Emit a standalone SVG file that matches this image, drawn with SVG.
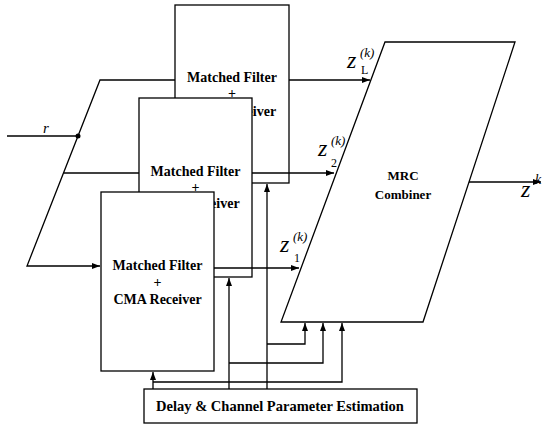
<svg xmlns="http://www.w3.org/2000/svg" width="543" height="425" viewBox="0 0 543 425">
<style>
.ln{fill:none;stroke:#000;stroke-width:1.3}
.box{fill:#fff;stroke:#000;stroke-width:1.3}
.t{font-family:"Liberation Serif","Times New Roman",serif;font-weight:bold;font-size:14px;text-anchor:middle;fill:#000}
.z{font-family:"Liberation Serif","Times New Roman",serif;font-style:italic;fill:#000}
.s{font-family:"Liberation Serif","Times New Roman",serif;fill:#000}
</style>
<defs>
<marker id="a" markerWidth="8" markerHeight="6" refX="8" refY="3" orient="auto" markerUnits="userSpaceOnUse"><path d="M0,0 L8,3 L0,6 z" fill="#000"/></marker>
</defs>
<g id="receiver-L">
<rect class="box" x="175" y="5" width="114" height="178"/>
<text class="t" x="232" y="82">Matched Filter</text>
<text class="t" x="232" y="98">+</text>
<text class="t" x="232" y="116">CMA Receiver</text>
</g>
<g id="receiver-2">
<rect class="box" x="139" y="98" width="113" height="179"/>
<text class="t" x="195.5" y="176">Matched Filter</text>
<text class="t" x="195.5" y="192">+</text>
<text class="t" x="195.5" y="208">CMA Receiver</text>
</g>
<g id="receiver-1">
<rect class="box" x="101" y="192" width="113" height="179"/>
<text class="t" x="157.5" y="270">Matched Filter</text>
<text class="t" x="157.5" y="287">+</text>
<text class="t" x="157.5" y="304">CMA Receiver</text>
</g>
<g id="mrc-combiner">
<polygon class="box" points="385,42 515,42 423,322 281,322"/>
<text class="t" x="403" y="180" style="font-size:13px">MRC</text>
<text class="t" x="403" y="199" style="font-size:13px">Combiner</text>
</g>
<g id="estimator">
<rect class="box" x="144" y="389" width="273" height="34"/>
<text class="t" x="280" y="411" style="font-size:14.5px">Delay &amp; Channel Parameter Estimation</text>
</g>
<g id="connectors">
<path class="ln" d="M7,136 H78"/>
<circle cx="78" cy="136" r="2.5" fill="#000"/>
<path class="ln" d="M175,80 H100 L27,266 H100" marker-end="url(#a)"/>
<path class="ln" d="M64,173 H139"/>
<path class="ln" d="M289,80 H370" marker-end="url(#a)"/>
<path class="ln" d="M252,173 H334" marker-end="url(#a)"/>
<path class="ln" d="M214,268 H299" marker-end="url(#a)"/>
<path class="ln" d="M469,182 H541" marker-end="url(#a)"/>
<path class="ln" d="M153,389 V372" marker-end="url(#a)"/>
<path class="ln" d="M229,389 V278" marker-end="url(#a)"/>
<path class="ln" d="M267,389 V184" marker-end="url(#a)"/>
<path class="ln" d="M153,382 H342 V323" marker-end="url(#a)"/>
<path class="ln" d="M229,363 H323 V323" marker-end="url(#a)"/>
<path class="ln" d="M267,344 H305 V323" marker-end="url(#a)"/>
</g>
<g id="labels">
<text class="z" x="43" y="133" font-size="15">r</text>
<text class="z" x="347" y="68" font-size="24">z</text>
<text class="z" x="360" y="57" font-size="13">(k)</text>
<text class="s" x="361" y="74" font-size="12">L</text>
<text class="z" x="318" y="156" font-size="24">z</text>
<text class="z" x="331" y="145" font-size="13">(k)</text>
<text class="s" x="331" y="167" font-size="12">2</text>
<text class="z" x="280" y="252" font-size="24">z</text>
<text class="z" x="293" y="241" font-size="13">(k)</text>
<text class="s" x="294" y="262" font-size="12">1</text>
<text class="z" x="521" y="197" font-size="24">z</text>
<text class="z" x="535" y="184" font-size="14">k</text>
</g>
</svg>
